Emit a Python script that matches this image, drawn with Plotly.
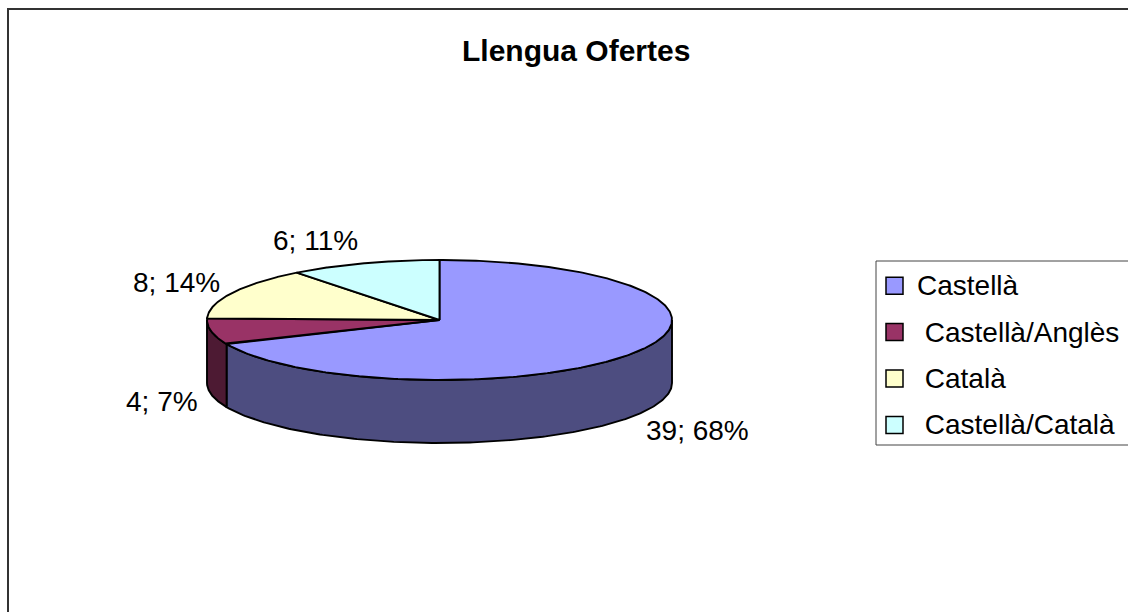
import numpy as np
import plotly.graph_objects as go

# ---- data ----
categories = ["Castellà", " Castellà/Anglès", " Català", " Castellà/Català"]
values = [39, 4, 8, 6]
title_text = "Llengua Ofertes"

# ---- styles ----
top_colors = ["#9999FF", "#993366", "#FFFFCC", "#CCFFFF"]
side_colors = ["#4D4D80", "#4D1A33", "#80806A", "#6A8080"]
FONT = "Arial, Liberation Sans, sans-serif"

# ---- geometry (pixel space) ----
W, H = 1128, 612
CX, CY, RX, RY, DEPTH = 439.5, 320.0, 232.5, 60.0, 63.0
START = 90.0  # 12 o'clock, clockwise


def ell(theta_deg, dy=0.0):
    t = np.radians(theta_deg)
    return CX + RX * np.cos(t), CY - RY * np.sin(t) + dy


total = float(sum(values))
bounds = [START]
for v in values:
    bounds.append(bounds[-1] - 360.0 * v / total)

fig = go.Figure()

# side walls (front half only: theta in (-180, 0) mod 360)
for i, v in enumerate(values):
    hi, lo = bounds[i], bounds[i + 1]
    for k in (-1, 0, 1):
        a = max(lo, -180.0 + 360 * k)
        b = min(hi, 0.0 + 360 * k)
        if b - a <= 0.01:
            continue
        th = np.linspace(a, b, 200)
        xt, yt = ell(th)
        xb, yb = ell(th[::-1], DEPTH)
        xs = np.concatenate([xt, xb, xt[:1]])
        ys = np.concatenate([yt, yb, yt[:1]])
        fig.add_trace(go.Scatter(x=xs, y=ys, mode="lines", fill="toself",
                                 fillcolor=side_colors[i],
                                 line=dict(color="black", width=1.9),
                                 hoverinfo="skip", showlegend=False))

# top faces
for i, v in enumerate(values):
    hi, lo = bounds[i], bounds[i + 1]
    th = np.linspace(hi, lo, 300)
    xa, ya = ell(th)
    xs = np.concatenate([[CX], xa, [CX]])
    ys = np.concatenate([[CY], ya, [CY]])
    fig.add_trace(go.Scatter(x=xs, y=ys, mode="lines", fill="toself",
                             fillcolor=top_colors[i],
                             line=dict(color="black", width=1.9),
                             hoverinfo="skip", showlegend=False,
                             name=categories[i].strip()))

annotations = []
# data labels
for i, v in enumerate(values):
    mid = (bounds[i] + bounds[i + 1]) / 2.0
    c, s = np.cos(np.radians(mid)), np.sin(np.radians(mid))
    lx = CX + RX * c * 1.05
    ly = CY - RY * s * 1.4 + (DEPTH if s < 0 else 0) + (2 if s < 0 else 0)
    xa = "left" if c > 0.1 else ("right" if c < -0.1 else "center")
    pct = int(round(100.0 * v / total))
    annotations.append(dict(x=lx, y=ly, xref="x", yref="y", text=f"{v}; {pct}%",
                            showarrow=False, xanchor=xa, yanchor="middle",
                            font=dict(family=FONT, size=28, color="black")))

# title
annotations.append(dict(x=576, y=50, xref="x", yref="y", text=f"<b>{title_text}</b>",
                        showarrow=False, xanchor="center", yanchor="middle",
                        font=dict(family=FONT, size=30, color="black")))

shapes = []
# outer chart border
shapes.append(dict(type="rect", xref="x", yref="y", x0=8, y0=9, x1=W + 20, y1=H + 20,
                   line=dict(color="#333333", width=2), fillcolor="rgba(0,0,0,0)"))
# legend box
LEG_X0, LEG_Y0, LEG_Y1 = 876, 261, 445
shapes.append(dict(type="rect", xref="x", yref="y", x0=LEG_X0, y0=LEG_Y0, x1=W + 20, y1=LEG_Y1,
                   line=dict(color="#444444", width=1), fillcolor="white"))
ITEM_Y0, ITEM_STEP, SW = 285.7, 46.4, 17
for i, name in enumerate(categories):
    yc = ITEM_Y0 + i * ITEM_STEP
    shapes.append(dict(type="rect", xref="x", yref="y", x0=886, x1=886 + SW,
                       y0=yc - SW / 2, y1=yc + SW / 2,
                       line=dict(color="black", width=1.5), fillcolor=top_colors[i]))
    label = name.replace(" ", "\u00a0", 1) if name.startswith(" ") else name
    annotations.append(dict(x=915, y=yc, xref="x", yref="y", text=label,
                            showarrow=False, xanchor="left", yanchor="middle",
                            font=dict(family=FONT, size=28, color="black")))

fig.update_layout(
    width=W, height=H,
    margin=dict(l=0, r=0, t=0, b=0),
    paper_bgcolor="white", plot_bgcolor="white",
    xaxis=dict(range=[0, W], visible=False, fixedrange=True),
    yaxis=dict(range=[H, 0], visible=False, fixedrange=True),
    showlegend=False,
    annotations=annotations,
    shapes=shapes,
)

fig.write_html("out.html", config={"displayModeBar": False},
               post_script="document.body.style.margin='0';document.body.style.overflow='hidden';")
